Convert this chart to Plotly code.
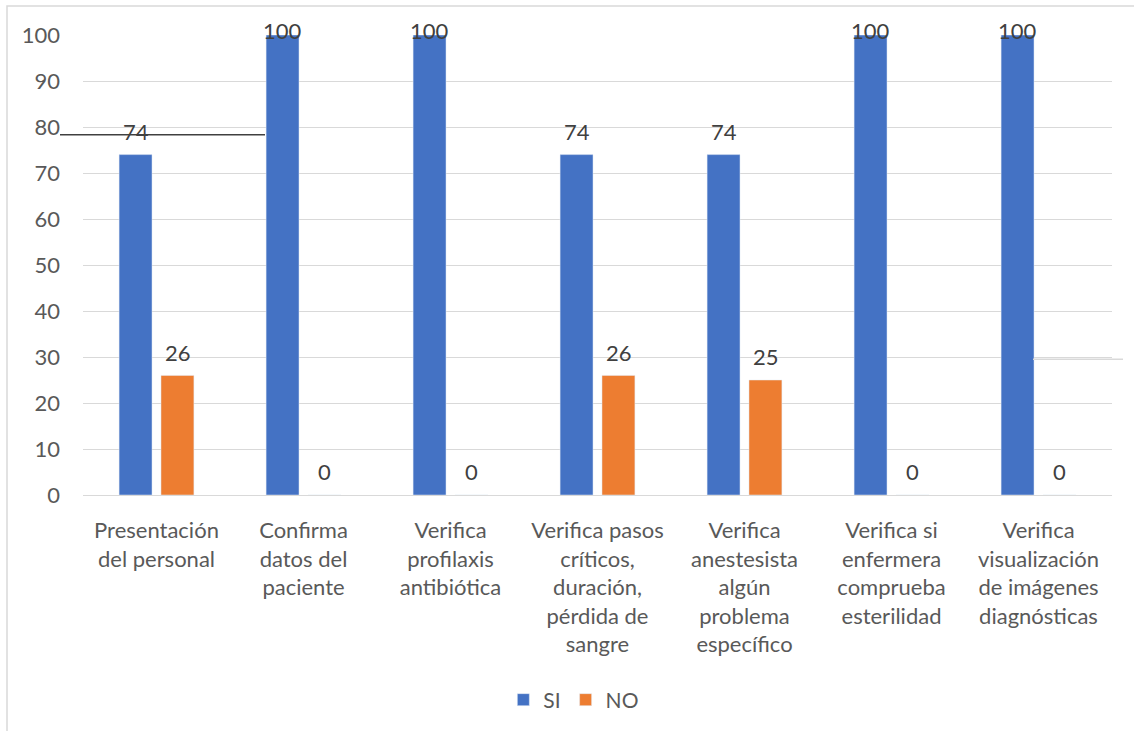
import plotly.graph_objects as go

# Checklist items (x categories), with manual line breaks
categories = [
    "Presentación<br>del personal",
    "Confirma<br>datos del<br>paciente",
    "Verifica<br>profilaxis<br>antibiótica",
    "Verifica pasos<br>críticos,<br>duración,<br>pérdida de<br>sangre",
    "Verifica<br>anestesista<br>algún<br>problema<br>específico",
    "Verifica si<br>enfermera<br>comprueba<br>esterilidad",
    "Verifica<br>visualización<br>de imágenes<br>diagnósticas",
]
si_values = [74, 100, 100, 74, 74, 100, 100]
no_values = [26, 0, 0, 26, 25, 0, 0]
y_ticks = [0, 10, 20, 30, 40, 50, 60, 70, 80, 90, 100]

BLUE = "#4472C4"
ORANGE = "#ED7D31"
TEXT = "#595959"
LABEL = "#404040"
GRID = "#D9D9D9"
FONT = "Lato"

fig = go.Figure()
fig.add_trace(go.Bar(name="SI", x=categories, y=si_values, marker_color=BLUE))
fig.add_trace(go.Bar(name="NO", x=categories, y=no_values, marker_color=ORANGE))

# Value labels above each bar (capped at the top of the axis)
annotations = []
for vals, shift in ((si_values, -21), (no_values, 21)):
    for cat, v in zip(categories, vals):
        annotations.append(dict(
            x=cat, y=min(v + 4, 100), xref="x", yref="y",
            text=str(v), showarrow=False, xshift=shift, yshift=5,
            yanchor="middle", font=dict(family=FONT, size=22, color=LABEL),
        ))

plot_l, plot_r, plot_t, plot_b = 83, 1112, 35, 496
W, H = 1134, 731
pw, ph = plot_r - plot_l, plot_b - plot_t


def px_x(x):
    return (x - plot_l) / pw


def px_y(y):
    return (plot_b - y) / ph


shapes = [
    # outer chart frame
    dict(type="rect", xref="paper", yref="paper",
         x0=px_x(7), x1=px_x(1200), y0=px_y(800), y1=px_y(6),
         line=dict(color=GRID, width=1.5), fillcolor="rgba(0,0,0,0)", layer="below"),
    # stray connector lines
    dict(type="line", xref="paper", yref="paper",
         x0=px_x(60), x1=px_x(265), y0=px_y(135), y1=px_y(135),
         line=dict(color="#404040", width=1.5)),
    dict(type="line", xref="paper", yref="paper",
         x0=px_x(1033), x1=px_x(1123), y0=px_y(360), y1=px_y(360),
         line=dict(color=GRID, width=1.5)),
]

fig.update_layout(
    width=W, height=H,
    margin=dict(l=plot_l, r=W - plot_r, t=plot_t, b=H - plot_b),
    paper_bgcolor="white", plot_bgcolor="white",
    barmode="group", bargap=0.43, bargroupgap=0.214,
    font=dict(family=FONT, size=22, color=TEXT),
    showlegend=True,
    legend=dict(orientation="h", x=0.477, xanchor="center", y=px_y(700), yanchor="middle",
                font=dict(family=FONT, size=21, color=TEXT), itemwidth=30,
                tracegroupgap=0, traceorder="normal"),
    annotations=annotations,
    shapes=shapes,
)
fig.update_xaxes(showgrid=False, showline=False, ticks="", tickangle=0,
                 tickfont=dict(family=FONT, size=22, color=TEXT), ticklabelstandoff=20)
fig.update_yaxes(range=[0, 100], tickvals=y_ticks, showgrid=True, gridcolor=GRID, gridwidth=1.2,
                 zeroline=True, zerolinecolor=GRID, zerolinewidth=1.2, showline=False,
                 tickfont=dict(family=FONT, size=22, color=TEXT), ticklabelstandoff=22)

fig.write_html("out.html")
